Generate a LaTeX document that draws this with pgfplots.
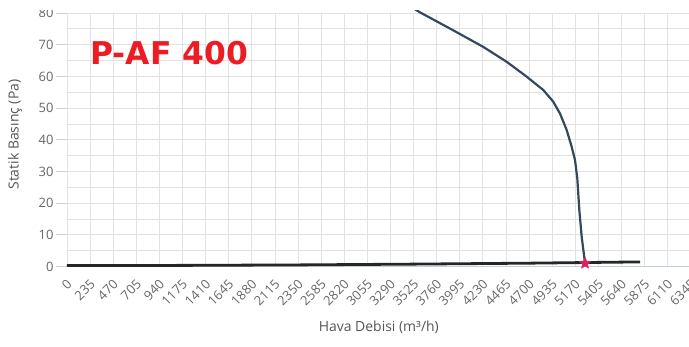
\documentclass[border=0pt]{standalone}
\usepackage{fontspec}
\setmainfont{Open Sans}
\newfontfamily\titlefont{DejaVu Sans}
\usepackage{pgfplots}
\pgfplotsset{compat=1.18}
\definecolor{gridc}{HTML}{E2E2E2}
\definecolor{curvec}{HTML}{34495E}
\definecolor{axisc}{HTML}{C0D0E0}
\definecolor{titlered}{HTML}{EC1C24}
\definecolor{starred}{HTML}{E0205A}
\definecolor{tickc}{HTML}{666666}
\definecolor{labelc}{HTML}{555555}
\pgfdeclareplotmark{fstar}{%
  \pgfpathmoveto{\pgfpointpolar{90}{\pgfplotmarksize}}%
  \pgfpathlineto{\pgfpointpolar{126}{0.45\pgfplotmarksize}}%
  \pgfpathlineto{\pgfpointpolar{162}{\pgfplotmarksize}}%
  \pgfpathlineto{\pgfpointpolar{198}{0.45\pgfplotmarksize}}%
  \pgfpathlineto{\pgfpointpolar{234}{\pgfplotmarksize}}%
  \pgfpathlineto{\pgfpointpolar{270}{0.45\pgfplotmarksize}}%
  \pgfpathlineto{\pgfpointpolar{306}{\pgfplotmarksize}}%
  \pgfpathlineto{\pgfpointpolar{342}{0.45\pgfplotmarksize}}%
  \pgfpathlineto{\pgfpointpolar{18}{\pgfplotmarksize}}%
  \pgfpathlineto{\pgfpointpolar{54}{0.45\pgfplotmarksize}}%
  \pgfpathclose
  \pgfusepathqfillstroke
}
\begin{document}
\begin{tikzpicture}
\useasboundingbox (-67bp,-80.5bp) rectangle (622bp,266.5bp);
\clip (-67bp,-80.5bp) rectangle (622bp,266.5bp);
\begin{axis}[
  at={(0,0)}, anchor=south west,
  scale only axis, width=623.7bp, height=253.5bp,
  xmin=0, xmax=6345, ymin=0, ymax=80,
  axis x line=bottom, axis y line=left,
  x axis line style={draw=axisc, line width=1.5bp, -},
  y axis line style={draw=none},
  xtick={0,235,470,705,940,1175,1410,1645,1880,2115,2350,2585,2820,3055,3290,3525,3760,3995,4230,4465,4700,4935,5170,5405,5640,5875,6110,6345},
  xticklabels={0,235,470,705,940,1175,1410,1645,1880,2115,2350,2585,2820,3055,3290,3525,3760,3995,4230,4465,4700,4935,5170,5405,5640,5875,6110,6345},
  ytick={0,10,...,80},
  minor ytick={5,15,...,75},
  grid=both,
  major grid style={draw=gridc, line width=0.8bp},
  minor grid style={draw=gridc, line width=0.8bp},
  xtick style={draw=none},
  ytick style={draw=gray!35, line width=0.8bp},
  minor y tick style={draw=none},
  tick align=outside, major tick length=11bp,
  /pgf/number format/assume math mode=true,
  tick label style={font=\fontsize{13}{15}\selectfont, text=tickc},
  xticklabel style={rotate=45, anchor=east, yshift=-5bp, xshift=2bp},
  yticklabel style={xshift=1bp},
  xlabel={Hava Debisi (m³/h)},
  ylabel={Statik Basınç (Pa)},
  every axis x label/.style={at={(axis description cs:0.5,0)}, yshift=-61bp, anchor=center, font=\fontsize{14}{16}\selectfont, text=labelc},
  every axis y label/.style={at={(axis description cs:-0.0834,0.52)}, rotate=90, anchor=center, font=\fontsize{14}{16}\selectfont, text=labelc},
  clip=false,
]
\addplot[black!85, line width=2.8bp] coordinates {(0,0.3)(1175,0.35)(2350,0.5)(3525,0.75)(4700,1.05)(5830,1.45)};
\addplot[curvec, line width=2.2bp] coordinates {
(3520,81.6)(3591,80.2)(3896,75.1)(4235,69.3)(4473,64.6)(4677,59.9)(4845,55.7)(4947,52.0)(5015,48.3)(5083,43.1)(5134,37.8)(5168,33.6)(5191,27.9)(5212,17.8)(5236,9.4)(5270,1.0)};
\addplot[only marks, mark=fstar, mark size=6bp, starred] coordinates {(5270,1.0)};
\node[anchor=base west, inner sep=0, text=titlered, font=\titlefont\bfseries\fontsize{31.5}{36}\selectfont] at (axis cs:235,63.6) {P-AF 400};
\end{axis}
\fill[white] (-67bp,256.5bp) rectangle (622bp,266.5bp);
\end{tikzpicture}
\end{document}
